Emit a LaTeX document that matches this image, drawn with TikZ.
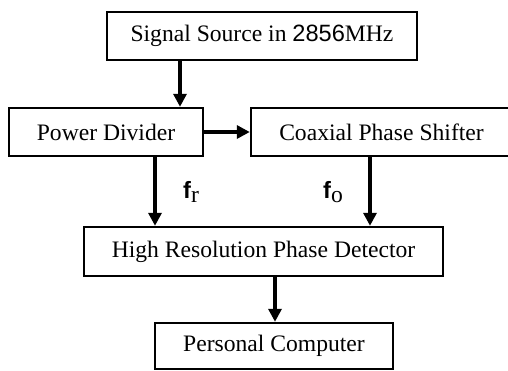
\documentclass[tikz,border=0pt]{standalone}
\usepackage{fontspec}
\setmainfont{Liberation Serif}
\newfontfamily\arialfont{Liberation Sans}
\usetikzlibrary{arrows.meta}
\begin{document}
\begin{tikzpicture}[x=0.5pt,y=-0.5pt,
  box/.style={draw,line width=1.2pt,inner sep=0pt,font=\fontsize{11.8}{14}\selectfont},
  arr/.style={line width=1.6pt,-{Triangle[length=6.5pt,width=6.5pt]}},
  lbl/.style={inner sep=0pt,font=\fontsize{11.8}{14}\selectfont}]
\useasboundingbox (0,0) rectangle (508,370);
\node[box,minimum width=155pt,minimum height=24pt] (src) at (262,36) {Signal Source in {\arialfont 2856}MHz};
\node[box,minimum width=97pt,minimum height=24pt] (pd) at (106,132) {Power Divider};
\node[box,minimum width=130.5pt,minimum height=24pt] (cps) at (381.5,132) {Coaxial Phase Shifter};
\node[box,minimum width=179.5pt,minimum height=24.5pt] (hrpd) at (263.5,251.5) {High Resolution Phase Detector};
\node[box,minimum width=119pt,minimum height=23pt] (pc) at (274,346) {Personal Computer};
\draw[arr] (src.south -| 180,0) -- (pd.north -| 180,0);
\draw[arr] (pd.east) -- (cps.west);
\draw[arr] (pd.south -| 155,0) -- (hrpd.north -| 155,0);
\draw[arr] (cps.south -| 370,0) -- (hrpd.north -| 370,0);
\draw[arr] (hrpd.south -| 275,0) -- (pc.north -| 275,0);
\node[lbl] (fr) at (191,192) {{\arialfont\bfseries f}\raisebox{-0.35ex}{r}};
\node[lbl] (fo) at (333,192) {{\arialfont\bfseries f}\raisebox{-0.35ex}{o}};
\end{tikzpicture}
\end{document}
